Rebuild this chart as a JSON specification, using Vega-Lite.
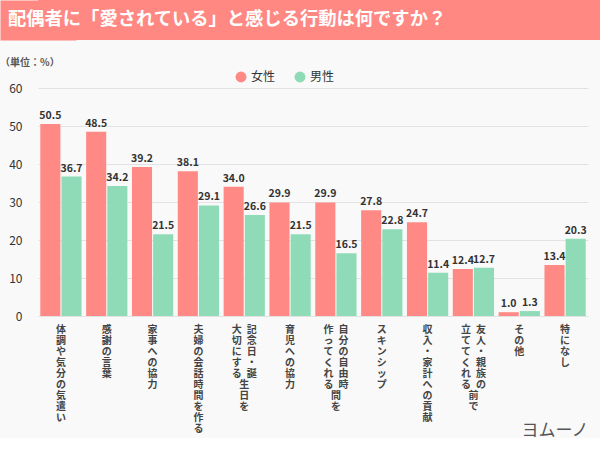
{
  "$schema": "https://vega.github.io/schema/vega-lite/v6.json",
  "padding": 0,
  "autosize": {"type": "pad"},
  "background": "#F9F9F9",
  "config": {
    "font": "Noto Sans CJK JP",
    "view": {"stroke": null}
  },
  "resolve": {"legend": {"color": "independent"}, "scale": {"x": "independent", "y": "independent", "color": "independent"}},
  "concat": [
    {
      "width": 562,
      "height": 40,
      "data": {"values": [{"lo": 0, "hi": 1, "mid": 0.5, "left": 0, "title": "配偶者に「愛されている」と感じる行動は何ですか？"}]},
      "layer": [
        {
          "mark": {"type": "rect", "color": "#FF8882"},
          "encoding": {
            "y": {
              "field": "lo",
              "type": "quantitative",
              "scale": {"domain": [0, 1]},
              "axis": {
                "title": null,
                "labels": false,
                "ticks": false,
                "grid": false,
                "domain": true,
                "domainColor": "#FF8882",
                "domainWidth": 76,
                "minExtent": 38
              }
            },
            "y2": {"field": "hi"}
          }
        },
        {
          "mark": {"type": "text", "align": "left", "baseline": "middle", "dx": -30, "color": "#FFFFFF", "fontSize": 18.3, "fontWeight": "bold"},
          "encoding": {
            "x": {"field": "left", "type": "quantitative", "scale": {"domain": [0, 1]}, "axis": null},
            "y": {"field": "mid", "type": "quantitative"},
            "text": {"field": "title", "type": "nominal"}
          }
        }
      ]
    },
    {
      "width": 550,
      "height": 228,
      "title": {
        "text": "（単位：%）",
        "anchor": "start",
        "frame": "bounds",
        "fontSize": 10,
        "fontWeight": "bold",
        "color": "#555555",
        "offset": 3
      },
      "data": {
        "values": [
          {"item": "体調や気分の気遣い", "sex": "女性", "pct": 50.5},
          {"item": "体調や気分の気遣い", "sex": "男性", "pct": 36.7},
          {"item": "感謝の言葉", "sex": "女性", "pct": 48.5},
          {"item": "感謝の言葉", "sex": "男性", "pct": 34.2},
          {"item": "家事への協力", "sex": "女性", "pct": 39.2},
          {"item": "家事への協力", "sex": "男性", "pct": 21.5},
          {"item": "夫婦の会話時間を作る", "sex": "女性", "pct": 38.1},
          {"item": "夫婦の会話時間を作る", "sex": "男性", "pct": 29.1},
          {"item": "記念日・誕生日を大切にする", "sex": "女性", "pct": 34.0},
          {"item": "記念日・誕生日を大切にする", "sex": "男性", "pct": 26.6},
          {"item": "育児への協力", "sex": "女性", "pct": 29.9},
          {"item": "育児への協力", "sex": "男性", "pct": 21.5},
          {"item": "自分の自由時間を作ってくれる", "sex": "女性", "pct": 29.9},
          {"item": "自分の自由時間を作ってくれる", "sex": "男性", "pct": 16.5},
          {"item": "スキンシップ", "sex": "女性", "pct": 27.8},
          {"item": "スキンシップ", "sex": "男性", "pct": 22.8},
          {"item": "収入・家計への貢献", "sex": "女性", "pct": 24.7},
          {"item": "収入・家計への貢献", "sex": "男性", "pct": 11.4},
          {"item": "友人・親族の前で立ててくれる", "sex": "女性", "pct": 12.4},
          {"item": "友人・親族の前で立ててくれる", "sex": "男性", "pct": 12.7},
          {"item": "その他", "sex": "女性", "pct": 1.0},
          {"item": "その他", "sex": "男性", "pct": 1.3},
          {"item": "特になし", "sex": "女性", "pct": 13.4},
          {"item": "特になし", "sex": "男性", "pct": 20.3}
        ]
      },
      "encoding": {
        "x": {
          "field": "item",
          "type": "nominal",
          "sort": null,
          "scale": {"paddingInner": 0.1, "paddingOuter": 0.05},
          "axis": {
            "title": "ヨムーノ",
            "titleAnchor": "end",
            "titleAlign": "right",
            "titleFontSize": 17,
            "titleFontWeight": "normal",
            "titleColor": "#555555",
            "titlePadding": -11,
            "labelAngle": 0,
            "labelAlign": "center",
            "labelBaseline": "top",
            "labelPadding": 8,
            "labelFontSize": 10,
            "labelFontWeight": "bold",
            "labelColor": "#444444",
            "labelLineHeight": 11,
            "labelLimit": 0,
            "ticks": false,
            "domain": false,
            "labelExpr": "datum.value == '記念日・誕生日を大切にする' ? ['大\u2002記','切\u2002念','に\u2002日','す\u2002・','る\u2002誕','　\u2002生','　\u2002日','　\u2002を'] : datum.value == '自分の自由時間を作ってくれる' ? ['作\u2002自','っ\u2002分','て\u2002の','く\u2002自','れ\u2002由','る\u2002時','　\u2002間','　\u2002を'] : datum.value == '友人・親族の前で立ててくれる' ? ['立\u2002友','て\u2002人','て\u2002・','く\u2002親','れ\u2002族','る\u2002の','　\u2002前','　\u2002で'] : split(datum.value, '')"
          }
        },
        "xOffset": {
          "field": "sex",
          "type": "nominal",
          "sort": ["女性", "男性"],
          "scale": {"paddingInner": 0.05}
        },
        "y": {
          "field": "pct",
          "type": "quantitative",
          "scale": {"domain": [0, 60]},
          "axis": {
            "title": null,
            "values": [0, 10, 20, 30, 40, 50, 60],
            "grid": true,
            "gridColor": "#E2E2E2",
            "domain": false,
            "ticks": false,
            "labelPadding": 16,
            "labelFontSize": 12,
            "labelColor": "#333333",
            "minExtent": 38
          }
        }
      },
      "layer": [
        {
          "mark": {"type": "bar"},
          "encoding": {
            "color": {
              "field": "sex",
              "type": "nominal",
              "sort": ["女性", "男性"],
              "scale": {"domain": ["女性", "男性"], "range": ["#FF8A85", "#8FDBB7"]},
              "legend": {
                "title": null,
                "orient": "none",
                "legendX": 197,
                "legendY": -17,
                "direction": "horizontal",
                "symbolType": "circle",
                "symbolSize": 120,
                "symbolStrokeWidth": 0,
                "labelFontSize": 12,
                "labelColor": "#333333",
                "columnPadding": 18
              }
            }
          }
        },
        {
          "mark": {"type": "text", "baseline": "bottom", "dy": -3, "fontSize": 10.5, "fontWeight": "bold", "color": "#333333"},
          "encoding": {
            "text": {"field": "pct", "type": "quantitative", "format": ".1f"}
          }
        }
      ]
    }
  ],
  "columns": 1,
  "spacing": 18
}
